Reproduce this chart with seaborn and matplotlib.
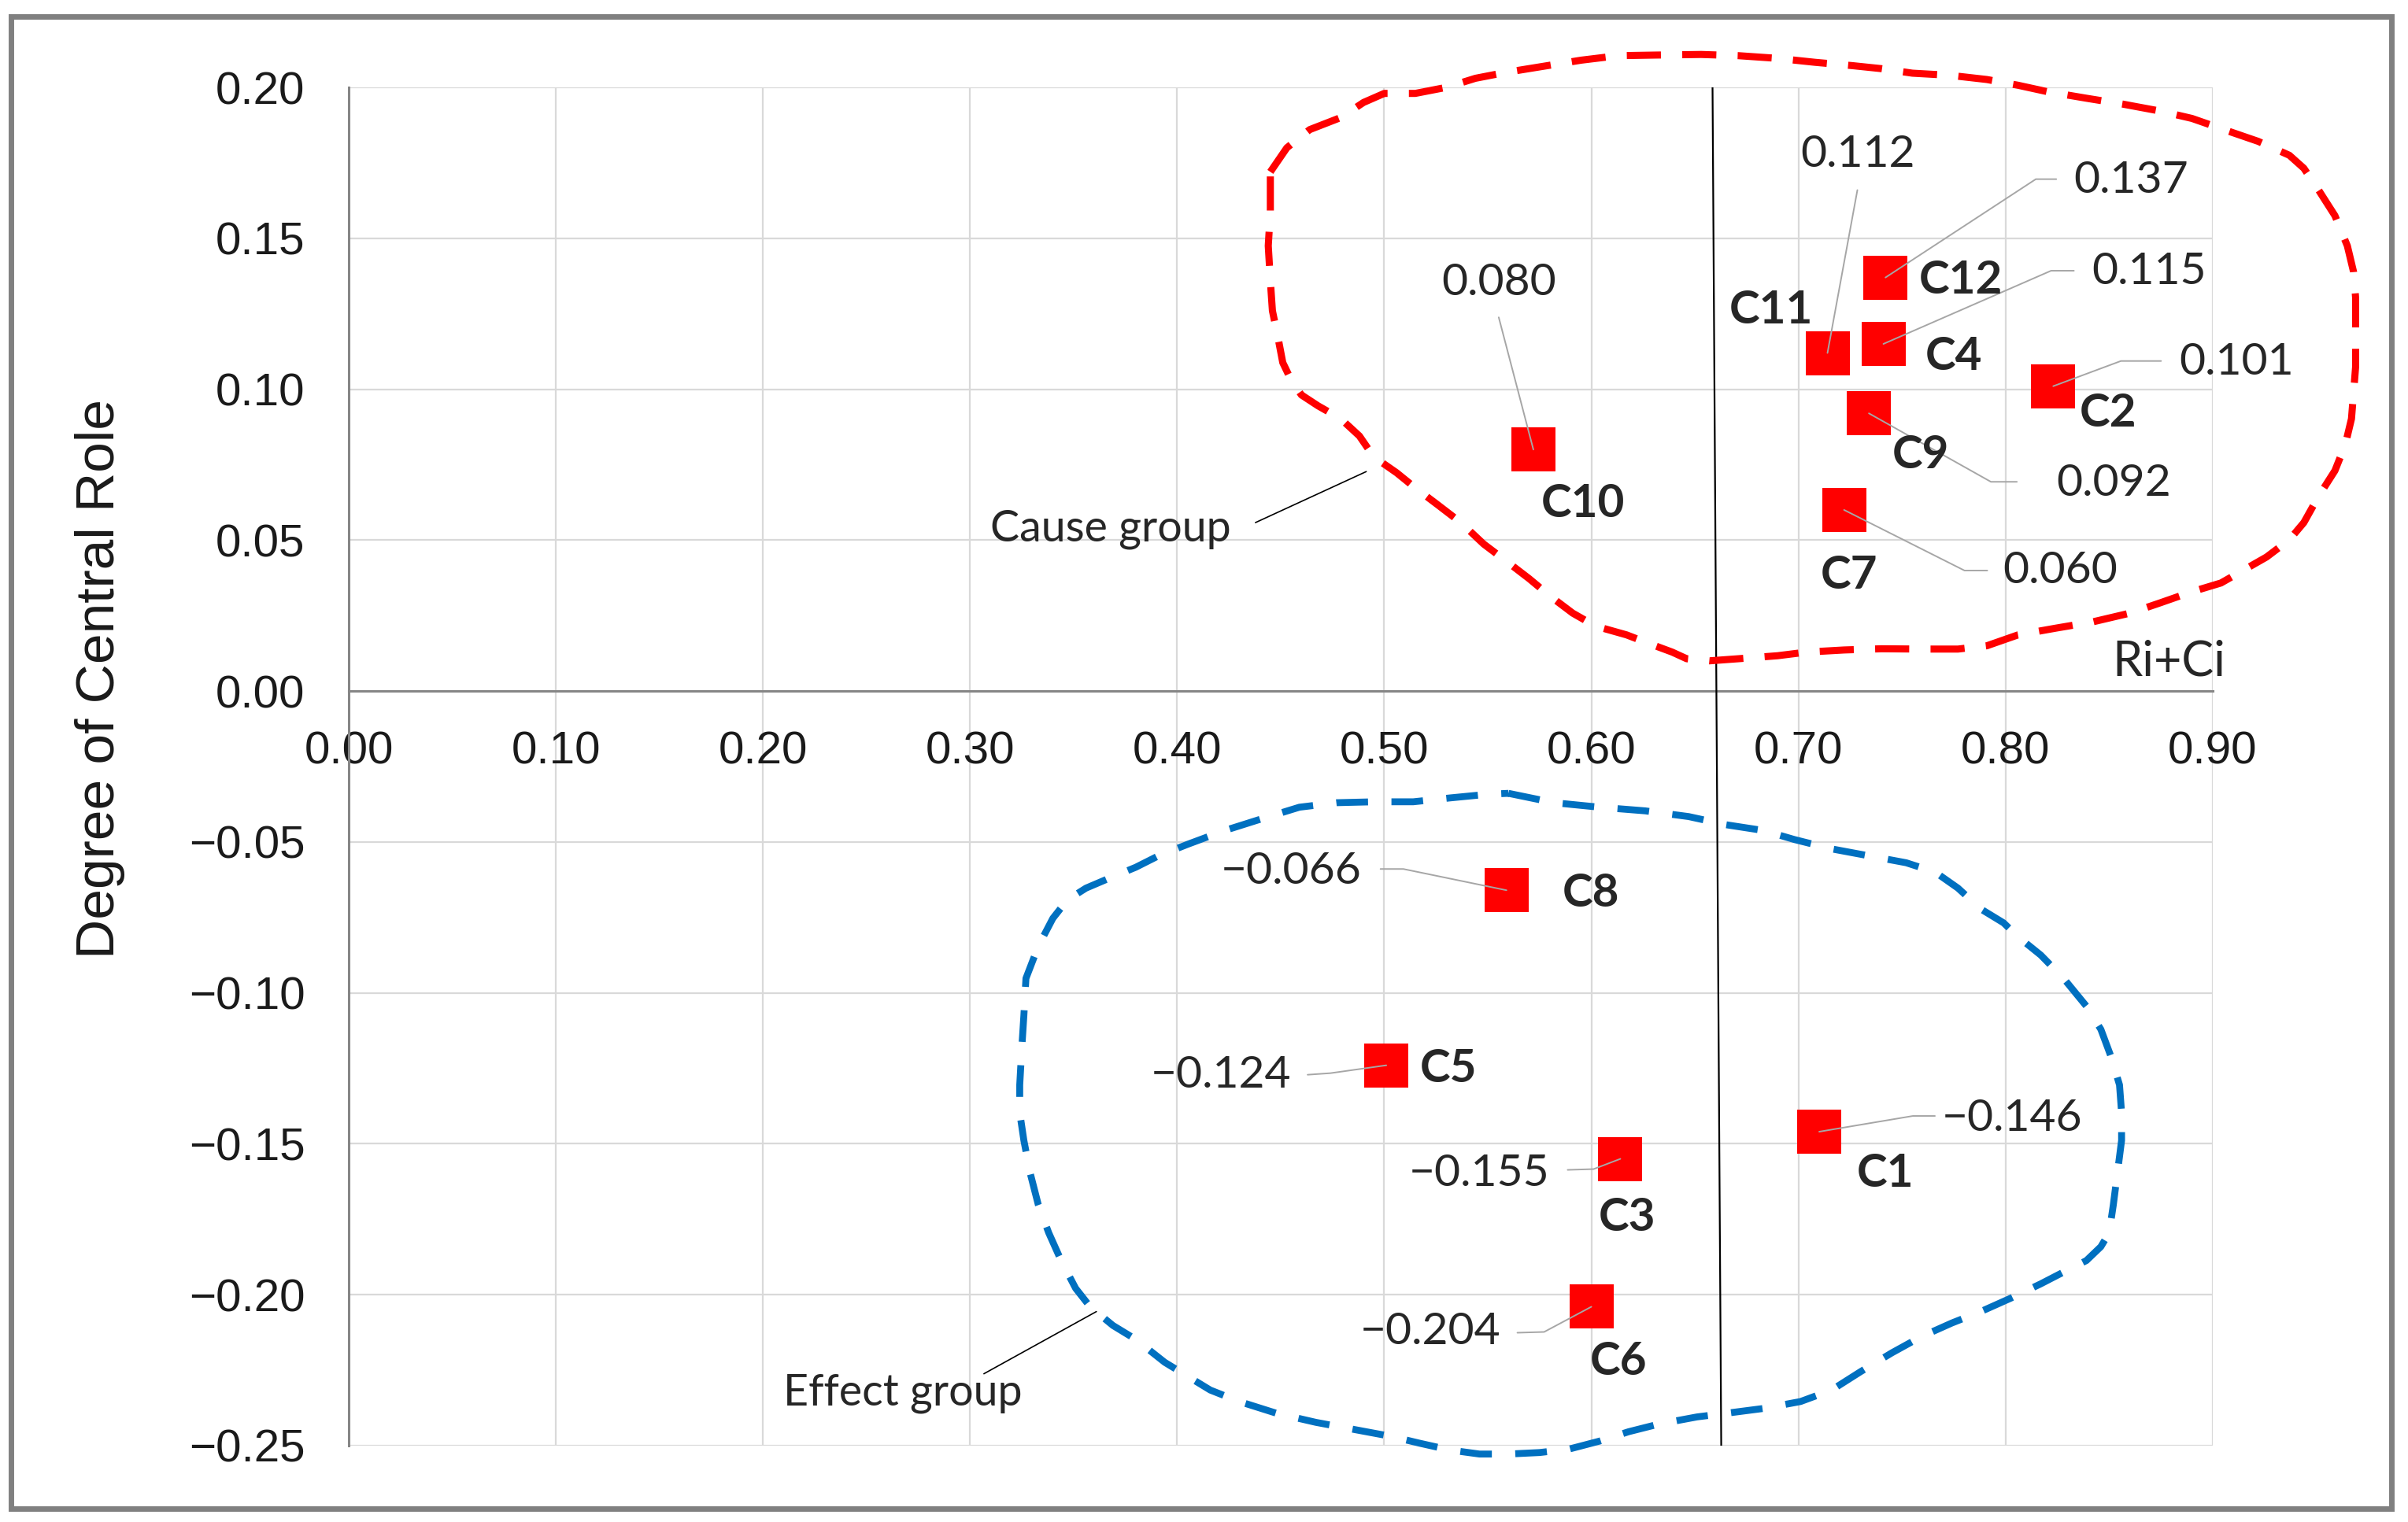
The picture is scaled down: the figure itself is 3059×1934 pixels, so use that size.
import matplotlib
matplotlib.use("Agg")
import numpy as np
import matplotlib.pyplot as plt
import seaborn as sns
from matplotlib.patches import Rectangle

# --- data ---
criteria = ["C1", "C2", "C3", "C4", "C5", "C6", "C7", "C8", "C9", "C10", "C11", "C12"]
ri_plus_ci = [0.710, 0.823, 0.614, 0.741, 0.501, 0.600, 0.722, 0.559, 0.734, 0.572, 0.714, 0.742]
ri_minus_ci = [-0.146, 0.101, -0.155, 0.115, -0.124, -0.204, 0.060, -0.066, 0.092, 0.080, 0.112, 0.137]

x_ticks = [0.0, 0.1, 0.2, 0.3, 0.4, 0.5, 0.6, 0.7, 0.8, 0.9]
y_ticks = [-0.25, -0.20, -0.15, -0.10, -0.05, 0.0, 0.05, 0.10, 0.15, 0.20]

# divider between the groups (slightly slanted in the original)
divider_x = [0.6585, 0.6627]
divider_y = [0.20, -0.25]

# hand drawn group outlines
cause_outline_x = [0.445, 0.453, 0.464, 0.479, 0.490, 0.500, 0.515, 0.530, 0.544, 0.559, 0.577,
                   0.595, 0.613, 0.631, 0.653, 0.671, 0.690, 0.708, 0.726, 0.740, 0.755, 0.773,
                   0.791, 0.806, 0.820, 0.839, 0.857, 0.875, 0.890, 0.908, 0.922, 0.937, 0.944,
                   0.951, 0.959, 0.965, 0.968, 0.969, 0.969, 0.969, 0.968, 0.967, 0.964, 0.959,
                   0.951, 0.944, 0.937, 0.926, 0.915, 0.904, 0.890, 0.875, 0.860, 0.842, 0.824,
                   0.806, 0.791, 0.777, 0.759, 0.740, 0.722, 0.704, 0.690, 0.671, 0.657, 0.646,
                   0.639, 0.628, 0.617, 0.602, 0.591, 0.580, 0.570, 0.559, 0.548, 0.537, 0.526,
                   0.515, 0.506, 0.497, 0.493, 0.488, 0.479, 0.468, 0.460, 0.455, 0.451, 0.449,
                   0.446, 0.445, 0.444, 0.445, 0.445]
cause_outline_y = [0.172, 0.180, 0.186, 0.190, 0.195, 0.198, 0.198, 0.200, 0.203, 0.205, 0.207,
                   0.209, 0.2105, 0.2107, 0.2109, 0.2105, 0.2096, 0.2083, 0.2072, 0.2062, 0.2047,
                   0.204, 0.2026, 0.2007, 0.1986, 0.1964, 0.1944, 0.1921, 0.1897, 0.1854, 0.1821,
                   0.1775, 0.1732, 0.1661, 0.1575, 0.1475, 0.1389, 0.1303, 0.1188, 0.1074, 0.0988,
                   0.0902, 0.0816, 0.073, 0.0644, 0.0558, 0.0501, 0.0444, 0.0401, 0.0358, 0.0329,
                   0.0293, 0.0258, 0.0229, 0.0208, 0.0186, 0.015, 0.0139, 0.0139, 0.014, 0.0136,
                   0.0129, 0.0117, 0.0107, 0.010, 0.0107, 0.0129, 0.0157, 0.0186, 0.0215, 0.0258,
                   0.0315, 0.0372, 0.043, 0.0487, 0.0558, 0.0616, 0.0673, 0.0723, 0.0766, 0.0795,
                   0.0845, 0.0902, 0.0945, 0.0981, 0.1031, 0.1088, 0.116, 0.126, 0.136, 0.1475,
                   0.1589, 0.172]
effect_outline_x = [0.560, 0.582, 0.604, 0.626, 0.647, 0.665, 0.683, 0.698, 0.716, 0.734, 0.752,
                    0.766, 0.777, 0.788, 0.799, 0.806, 0.817, 0.828, 0.839, 0.846, 0.851, 0.855,
                    0.856, 0.856, 0.854, 0.852, 0.850, 0.846, 0.839, 0.828, 0.817, 0.803, 0.788,
                    0.774, 0.759, 0.745, 0.730, 0.716, 0.701, 0.683, 0.665, 0.651, 0.633, 0.618,
                    0.604, 0.589, 0.575, 0.560, 0.546, 0.532, 0.517, 0.503, 0.485, 0.467, 0.448,
                    0.430, 0.416, 0.405, 0.394, 0.380, 0.369, 0.358, 0.351, 0.344, 0.338, 0.333,
                    0.329, 0.326, 0.324, 0.324, 0.325, 0.326, 0.327, 0.333, 0.340, 0.347, 0.356,
                    0.369, 0.380, 0.391, 0.405, 0.423, 0.441, 0.459, 0.477, 0.495, 0.514, 0.532,
                    0.550, 0.560]
effect_outline_y = [-0.0339, -0.037, -0.0385, -0.0397, -0.0416, -0.0443, -0.0462, -0.0492,
                    -0.0523, -0.0546, -0.0569, -0.060, -0.0653, -0.0722, -0.0768, -0.0814,
                    -0.0875, -0.0952, -0.1044, -0.1121, -0.1213, -0.1305, -0.1397, -0.1489,
                    -0.1596, -0.1703, -0.1795, -0.1841, -0.1887, -0.1925, -0.1964, -0.201,
                    -0.2056, -0.2094, -0.214, -0.2193, -0.2255, -0.2316, -0.2354, -0.2377,
                    -0.2393, -0.2405, -0.2428, -0.2454, -0.2485, -0.2512, -0.2523, -0.2528,
                    -0.2528, -0.2515, -0.2492, -0.2469, -0.2446, -0.2423, -0.2393, -0.2354,
                    -0.2316, -0.227, -0.2224, -0.2148, -0.2102, -0.204, -0.1979, -0.1887,
                    -0.1795, -0.1703, -0.1596, -0.1489, -0.1397, -0.1305, -0.1182, -0.1075,
                    -0.0952, -0.0845, -0.0753, -0.0692, -0.0653, -0.0615, -0.0584, -0.0546,
                    -0.0508, -0.0462, -0.0423, -0.0385, -0.037, -0.0367, -0.0367, -0.0354,
                    -0.0342, -0.0339]

# --- label layout (offsets in pixels from each marker) ---
name_offsets = {
    "C1": (84, -53), "C2": (70, -35), "C3": (9, -75), "C4": (89, -16),
    "C5": (79, -5), "C6": (34, -70), "C7": (6, -84), "C8": (107, -4),
    "C9": (66, -53), "C10": (63, -69), "C11": (-72, 54), "C12": (96, -4),
}
value_offsets = {
    "C1": (245, 17), "C2": (233, 30), "C3": (-179, -19), "C4": (337, 92),
    "C5": (-210, -13), "C6": (-205, -32), "C7": (275, -78), "C8": (-274, 24),
    "C9": (311, -89), "C10": (-44, 212), "C11": (38, 252), "C12": (312, 123),
}
leader_offsets = {
    "C1": [(119, 20), (147, 20)], "C2": [(86, 32), (137, 32)],
    "C3": [(-34, -13), (-67, -14)], "C4": [(213, 93), (242, 93)],
    "C5": [(-71, -10), (-100, -12)], "C6": [(-60, -32), (-94, -33)],
    "C7": [(153, -77), (182, -77)], "C8": [(-131, 27), (-160, 27)],
    "C9": [(155, -87), (188, -87)], "C10": [(-44, 168)],
    "C11": [(38, 207)], "C12": [(191, 125), (217, 125)],
}

sns.set_style("white")
plt.rcParams["font.family"] = ["Liberation Sans", "DejaVu Sans"]
label_font = ["Lato", "DejaVu Sans"]

fig = plt.figure(figsize=(30.59, 19.34), dpi=100)
ax = fig.add_axes([0.1448, 0.0502, 0.7741, 0.8924])

for side in ["top", "right"]:
    ax.spines[side].set_visible(False)
ax.spines["bottom"].set_position(("data", 0))
for side in ["bottom", "left"]:
    ax.spines[side].set_color("#868686")
    ax.spines[side].set_linewidth(2.2)

ax.set_xlim(0, 0.9)
ax.set_ylim(-0.25, 0.20)
ax.set_xticks(x_ticks)
ax.set_xticklabels([f"{v:.2f}" for v in x_ticks])
ax.set_yticks(y_ticks)
ax.set_yticklabels([f"{v:.2f}".replace("-", "\u2212") for v in y_ticks])
ax.tick_params(axis="x", length=0, pad=36, labelsize=42, labelcolor="#1a1a1a")
ax.tick_params(axis="y", length=0, pad=40, labelsize=42, labelcolor="#1a1a1a")
ax.grid(True, color="#d9d9d9", linewidth=1.6)
ax.set_axisbelow(True)

ax.plot(divider_x, divider_y, color="black", linewidth=1.6, zorder=3)

ax.plot(cause_outline_x, cause_outline_y, color="#ff0000", linewidth=6.5,
        linestyle=(0, (4.8, 3.0)), dash_capstyle="butt", clip_on=False, zorder=3)
ax.plot(effect_outline_x, effect_outline_y, color="#0070c0", linewidth=6.3,
        linestyle=(0, (4.6, 3.4)), dash_capstyle="butt", clip_on=False, zorder=3)

sns.scatterplot(x=ri_plus_ci, y=ri_minus_ci, marker="s", s=1625, color="#ff0000",
                edgecolor="none", linewidth=0, legend=False, ax=ax, zorder=4)

# leader lines from each marker to its value label
fig.canvas.draw()
to_px = ax.transData
from_px = ax.transData.inverted()
for name, x, y in zip(criteria, ri_plus_ci, ri_minus_ci):
    base = to_px.transform((x, y))
    path = np.array([base] + [base + np.array(o) for o in leader_offsets[name]])
    path = from_px.transform(path)
    ax.plot(path[:, 0], path[:, 1], color="#a6a6a6", linewidth=1.4, zorder=5,
            clip_on=False)

for name, x, y in zip(criteria, ri_plus_ci, ri_minus_ci):
    ax.annotate(f"{y:.3f}".replace("-", "\u2212"), xy=(x, y), xytext=value_offsets[name],
                textcoords="offset pixels", ha="center", va="center",
                fontsize=41, family=label_font, zorder=6)
    ax.annotate(name, xy=(x, y), xytext=name_offsets[name], textcoords="offset pixels",
                ha="center", va="center", fontsize=42, fontweight="bold",
                family=label_font, zorder=6)

ax.text(0.879, 0.0097, "Ri+Ci", ha="center", va="center", fontsize=44,
        family=label_font, clip_on=False)

ax.text(0.3677, 0.0536, "Cause group", ha="center", va="center", fontsize=40,
        family=label_font)
ax.plot([0.4378, 0.4913], [0.0558, 0.0727], color="black", linewidth=1.2)
ax.text(0.2676, -0.2327, "Effect group", ha="center", va="center", fontsize=40,
        family=label_font)
ax.plot([0.3067, 0.3610], [-0.2262, -0.2056], color="black", linewidth=1.2)

fig.text(0.0415, 0.554, "Degree of Central Role", rotation=90, ha="center",
         va="center", fontsize=50, color="#1a1a1a")

fig.patches.append(Rectangle((14 / 3059, 1 - 1917 / 1934), (3038 - 14) / 3059,
                             (1917 - 21) / 1934, transform=fig.transFigure, fill=False,
                             edgecolor="#808080", linewidth=5))

fig.savefig("out.png", dpi=100)
plt.close(fig)
